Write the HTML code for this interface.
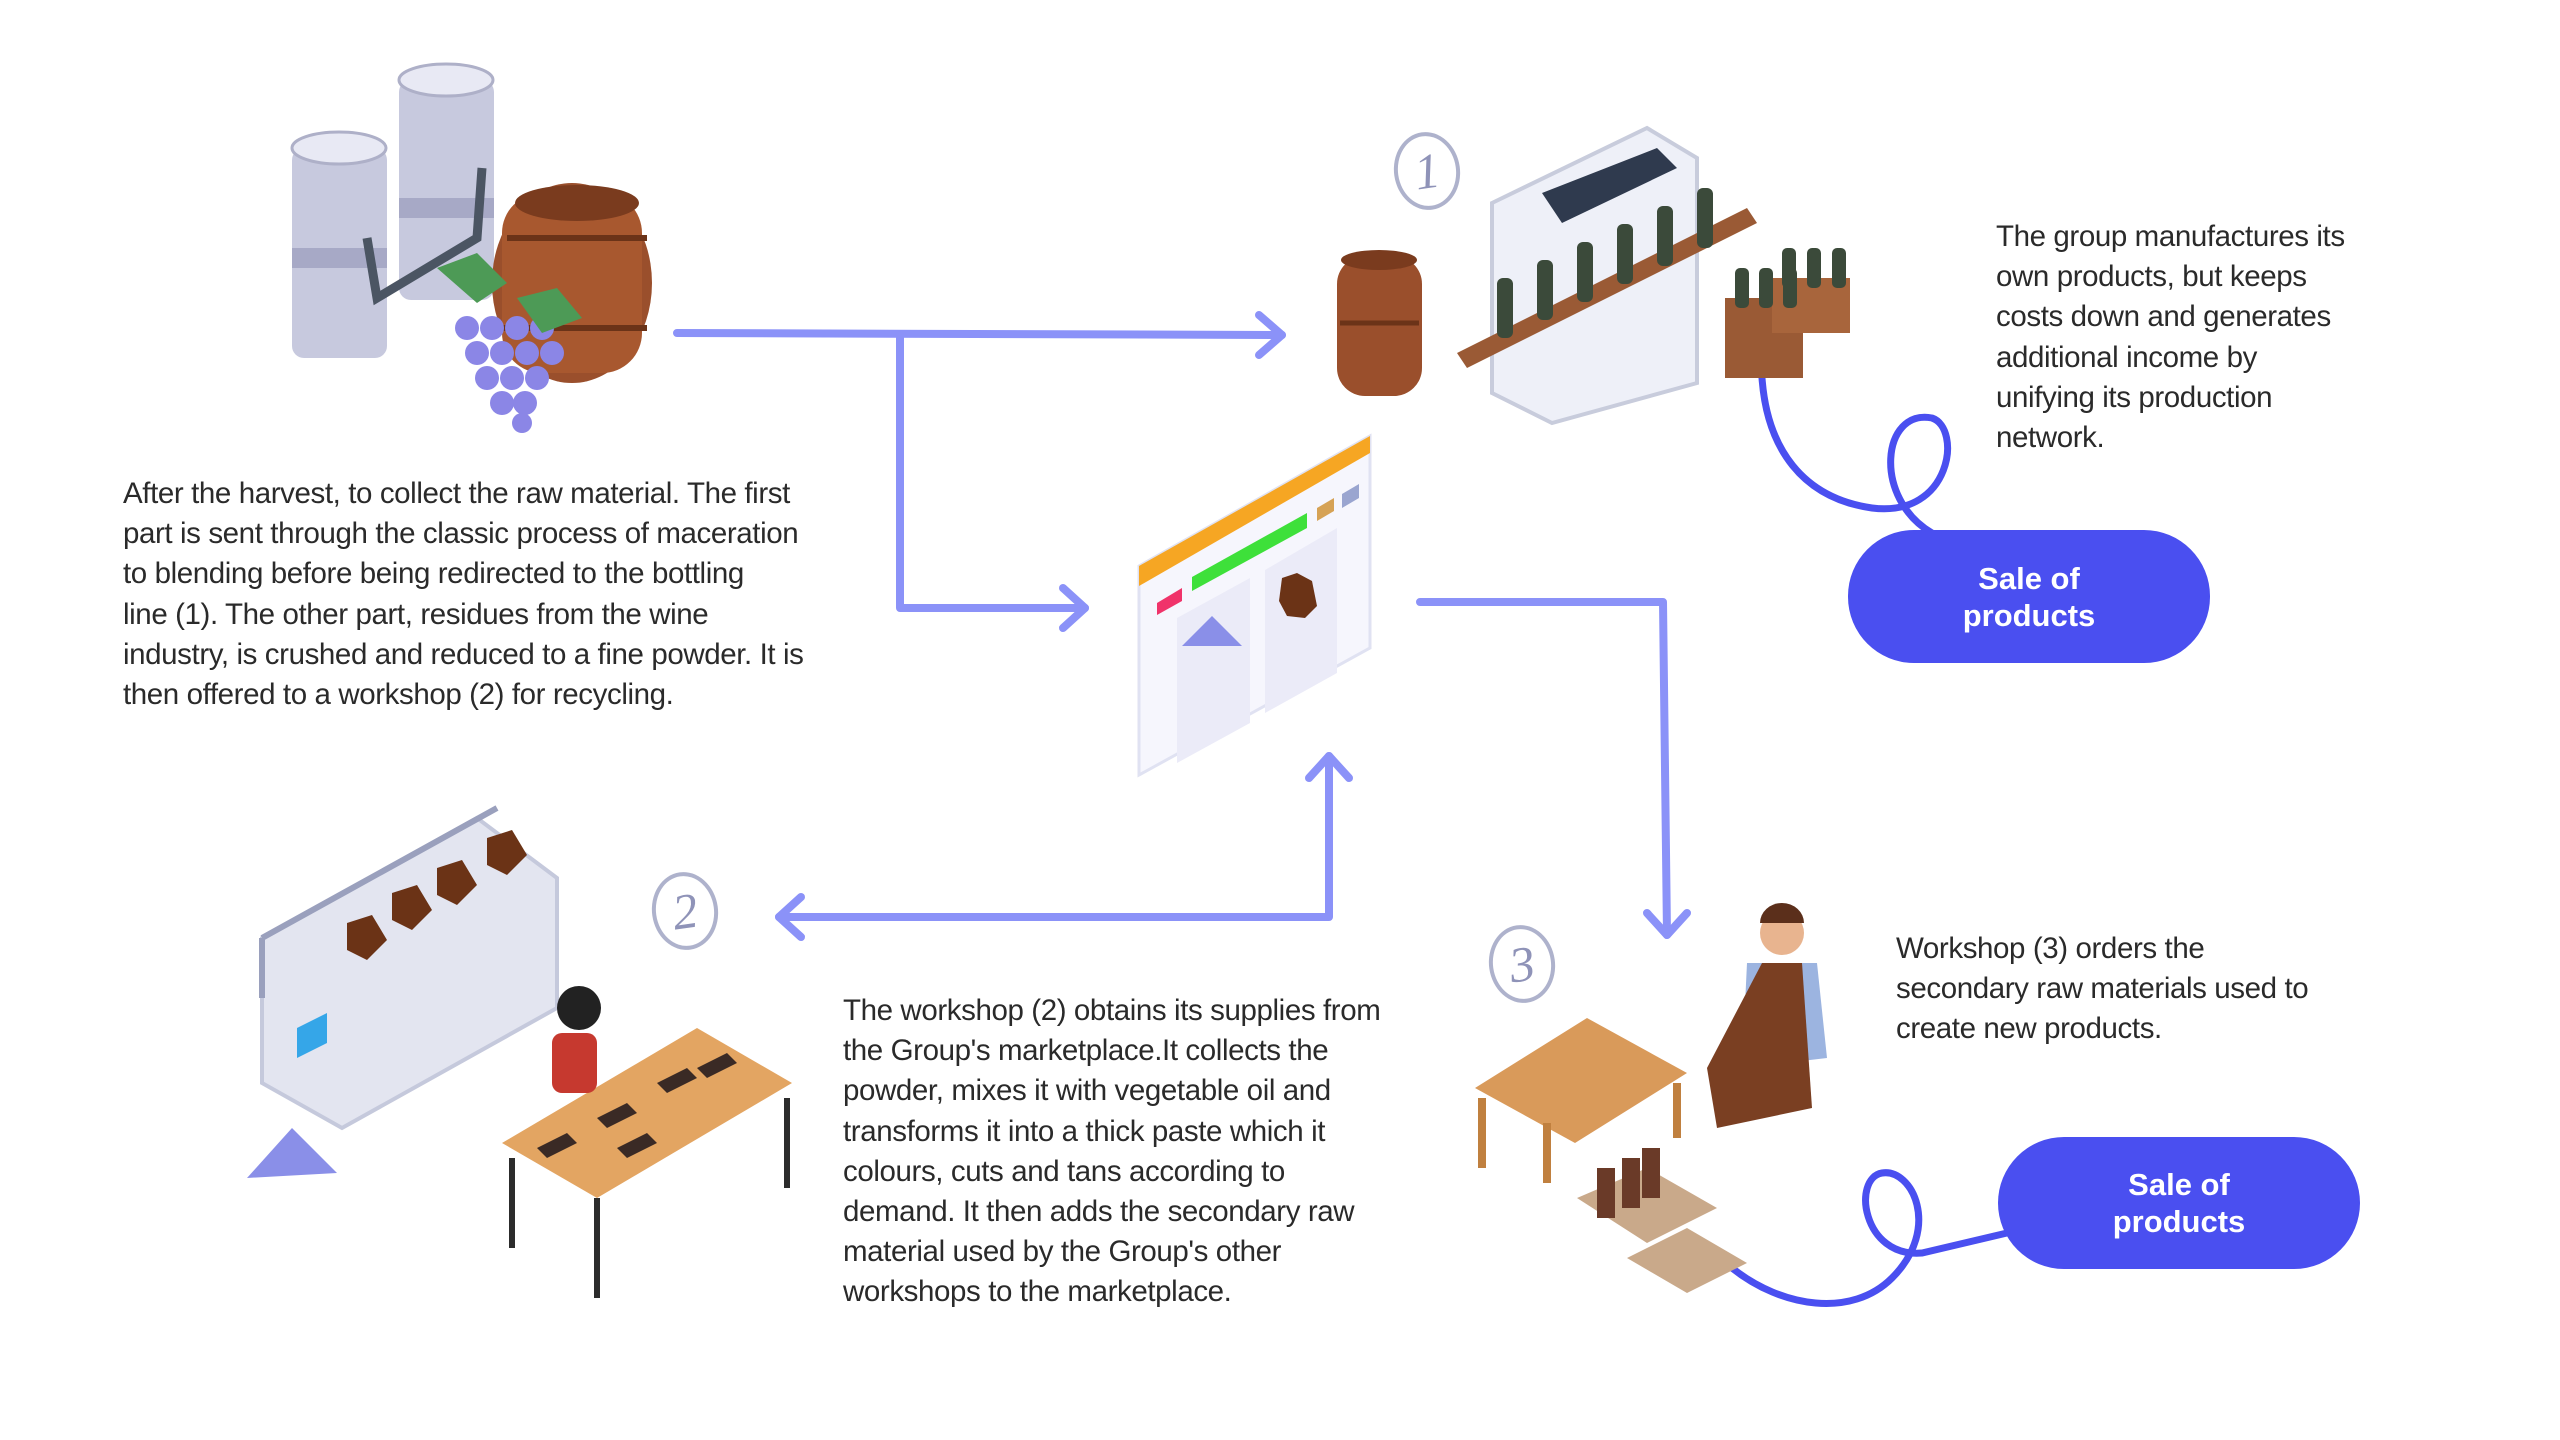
<!DOCTYPE html>
<html><head><meta charset="utf-8"><style>
html,body{margin:0;padding:0;background:#fff}
#c{position:relative;width:2560px;height:1440px;overflow:hidden;font-family:"Liberation Sans",sans-serif;color:#2a2a2a}
#w{position:absolute;left:0;top:0;width:2560px;height:1440px;transform:translate(-3px,-2px)}
.t{position:absolute;font-size:29.5px;line-height:40.2px;white-space:nowrap;letter-spacing:-0.4px}
.btn{position:absolute;background:#4a4ff0;color:#fff;border-radius:66px;font-weight:bold;font-size:31px;line-height:37px;text-align:center;display:flex;align-items:center;justify-content:center}
svg{position:absolute;left:0;top:0}
.num{position:absolute;font-family:"Liberation Serif",serif;font-style:italic;color:#8f93b8;font-size:50px;width:58px;height:70px;border:4px solid #aeb2cc;border-radius:50%;text-align:center;line-height:70px;transform:rotate(-8deg)}
</style></head><body><div id="c"><div id="w">
<svg width="2560" height="1440" viewBox="0 0 2560 1440">
<g fill="none" stroke="#8b92f8" stroke-width="8" stroke-linecap="round" stroke-linejoin="round">
<path d="M680 335 L1285 337"/><path d="M1262 317 L1285 337 L1262 357"/>
<path d="M903 337 L903 610 L1088 610"/><path d="M1066 590 L1088 610 L1066 630"/>
<path d="M1423 604 L1666 604 L1670 937"/><path d="M1650 915 L1670 937 L1690 915"/>
<path d="M1332 758 L1332 919 L782 919"/><path d="M1312 780 L1332 758 L1352 780"/><path d="M804 899 L782 919 L804 939"/>
</g>
<g fill="none" stroke="#4a4ff0" stroke-width="7" stroke-linecap="round">
<path d="M1765 380 C1770 450 1805 500 1875 510 C1955 520 1965 430 1935 420 C1885 410 1875 500 1935 535"/>
<path d="M1735 1270 C1785 1310 1855 1320 1895 1280 C1945 1230 1915 1170 1885 1175 C1855 1180 1865 1260 1925 1255 L2010 1235"/>
</g>
<g>
<rect x="295" y="150" width="95" height="210" rx="12" fill="#c7c9de"/><ellipse cx="342" cy="150" rx="47" ry="16" fill="#e8e9f4" stroke="#aeb0c8" stroke-width="3"/>
<rect x="402" y="82" width="95" height="220" rx="12" fill="#c7c9de"/><ellipse cx="449" cy="82" rx="47" ry="16" fill="#e8e9f4" stroke="#aeb0c8" stroke-width="3"/>
<rect x="295" y="250" width="95" height="20" fill="#a7a9c6"/><rect x="402" y="200" width="95" height="20" fill="#a7a9c6"/>
<path d="M370 240 L380 300 L480 240 L485 170" stroke="#4b5563" stroke-width="9" fill="none"/>
<ellipse cx="575" cy="285" rx="80" ry="100" fill="#9a4f2c"/><rect x="505" y="195" width="140" height="180" rx="40" fill="#a8582f"/>
<ellipse cx="580" cy="205" rx="62" ry="18" fill="#7a3b1e"/>
<path d="M510 240 L650 240 M505 330 L650 330" stroke="#6b3318" stroke-width="6"/>
<g fill="#8b86e6"><circle cx="470" cy="330" r="12"/><circle cx="495" cy="330" r="12"/><circle cx="520" cy="330" r="12"/><circle cx="545" cy="330" r="12"/><circle cx="480" cy="355" r="12"/><circle cx="505" cy="355" r="12"/><circle cx="530" cy="355" r="12"/><circle cx="555" cy="355" r="12"/><circle cx="490" cy="380" r="12"/><circle cx="515" cy="380" r="12"/><circle cx="540" cy="380" r="12"/><circle cx="505" cy="405" r="12"/><circle cx="528" cy="405" r="12"/><circle cx="525" cy="425" r="10"/></g>
<g fill="#4d9a56"><path d="M440 270 l40 -15 l30 30 l-30 20z"/><path d="M520 300 l40 -10 l25 30 l-40 15z"/></g>
</g>
<rect x="1340" y="258" width="85" height="140" rx="28" fill="#9a4f2c"/><ellipse cx="1382" cy="262" rx="38" ry="10" fill="#7a3b1e"/><path d="M1343 325 L1422 325" stroke="#6b3318" stroke-width="5"/>
<path d="M1495 205 L1650 130 L1700 160 L1700 385 L1555 425 L1495 395Z" fill="#eef0f8" stroke="#c8ccdc" stroke-width="4"/>
<path d="M1545 195 L1660 150 L1680 170 L1565 225Z" fill="#2f3a4e"/>
<path d="M1460 355 L1750 210 L1760 225 L1470 370Z" fill="#9a5a35"/>
<g fill="#3b4a3a"><rect x="1500" y="280" width="16" height="60" rx="6"/><rect x="1540" y="262" width="16" height="60" rx="6"/><rect x="1580" y="244" width="16" height="60" rx="6"/><rect x="1620" y="226" width="16" height="60" rx="6"/><rect x="1660" y="208" width="16" height="60" rx="6"/><rect x="1700" y="190" width="16" height="60" rx="6"/></g>
<rect x="1728" y="300" width="78" height="80" fill="#9a5a35"/><rect x="1775" y="280" width="78" height="55" fill="#a8653c"/>
<g fill="#3b4a3a"><rect x="1738" y="270" width="14" height="40" rx="5"/><rect x="1762" y="270" width="14" height="40" rx="5"/><rect x="1786" y="270" width="14" height="40" rx="5"/><rect x="1785" y="250" width="14" height="40" rx="5"/><rect x="1810" y="250" width="14" height="40" rx="5"/><rect x="1835" y="250" width="14" height="40" rx="5"/></g>
<path d="M1142 568 L1373 438 L1373 650 L1142 777Z" fill="#f6f6fd" stroke="#e0e2f2" stroke-width="3"/>
<path d="M1142 568 L1373 438 L1373 455 L1142 588Z" fill="#f6a623"/>
<path d="M1195 579 L1310 515 L1310 530 L1195 593Z" fill="#3ee03a"/>
<path d="M1160 605 L1185 590 L1185 603 L1160 617Z" fill="#f0336a"/>
<path d="M1320 510 L1337 500 L1337 513 L1320 523Z" fill="#d6a255"/><path d="M1345 496 L1362 486 L1362 500 L1345 510Z" fill="#9aa5d0"/>
<path d="M1180 620 L1253 580 L1253 725 L1180 765Z" fill="#ebebf8"/><path d="M1268 572 L1340 530 L1340 675 L1268 715Z" fill="#ebebf8"/>
<path d="M1185 648 L1215 618 L1245 648Z" fill="#8a8fe8"/><path d="M1285 580 l15 -5 l15 8 l5 25 l-12 12 l-18 -2 l-8 -15z" fill="#6b3316"/>
<path d="M265 940 L480 820 L560 880 L560 1010 L345 1130 L265 1085Z" fill="#e3e5f0" stroke="#c5c9dc" stroke-width="4"/>
<path d="M265 940 L265 1000 M500 810 L265 940" stroke="#9aa0bd" stroke-width="6"/>
<g fill="#6b3316"><path d="M350 925 l25 -8 l15 25 l-20 20 l-20 -10z"/><path d="M395 895 l25 -8 l15 25 l-20 20 l-20 -10z"/><path d="M440 870 l25 -8 l15 25 l-20 20 l-20 -10z"/><path d="M490 840 l25 -8 l15 25 l-20 20 l-20 -10z"/></g>
<path d="M300 1030 L330 1015 L330 1045 L300 1060Z" fill="#35a6e8"/>
<path d="M250 1180 L295 1130 L340 1175Z" fill="#8a8fe8"/>
<path d="M505 1145 L700 1030 L795 1085 L600 1200Z" fill="#e3a562"/>
<path d="M515 1160 L515 1250 M600 1200 L600 1300 M790 1100 L790 1190" stroke="#2c2c2c" stroke-width="6"/>
<circle cx="582" cy="1010" r="22" fill="#222"/><rect x="555" y="1035" width="45" height="60" rx="10" fill="#c6392f"/>
<g fill="#3a2a25"><path d="M540 1150 l30 -15 l10 10 l-30 15z"/><path d="M600 1120 l30 -15 l10 10 l-30 15z"/><path d="M660 1085 l30 -15 l10 10 l-30 15z"/><path d="M620 1150 l30 -15 l10 10 l-30 15z"/><path d="M700 1070 l30 -15 l10 10 l-30 15z"/></g>
<path d="M1478 1090 L1590 1020 L1690 1075 L1578 1145Z" fill="#d99a5a"/>
<path d="M1485 1100 L1485 1170 M1550 1125 L1550 1185 M1680 1085 L1680 1140" stroke="#c0803f" stroke-width="8"/>
<circle cx="1785" cy="935" r="22" fill="#e8b48f"/><path d="M1763 925 a22 20 0 0 1 44 0z" fill="#5b2f1b"/>
<path d="M1750 965 L1820 965 L1830 1060 L1745 1070Z" fill="#9cb4e0"/><path d="M1765 965 L1805 965 L1815 1110 L1720 1130 L1710 1070Z" fill="#7a3f22"/>
<path d="M1580 1200 L1650 1170 L1720 1210 L1650 1245Z" fill="#c9a98a"/><path d="M1630 1260 L1690 1230 L1750 1265 L1690 1295Z" fill="#c9a98a"/>
<g fill="#6a3a28"><rect x="1600" y="1170" width="18" height="50"/><rect x="1625" y="1160" width="18" height="50"/><rect x="1645" y="1150" width="18" height="50"/></g>
</svg>
<div class="num" style="left:1397px;top:134px">1</div>
<div class="num" style="left:655px;top:874px">2</div>
<div class="num" style="left:1492px;top:927px">3</div>
</div>
<div class="t" style="left:123px;top:474px">After the harvest, to collect the raw material. The first<br>part is sent through the classic process of maceration<br>to blending before being redirected to the bottling<br>line (1). The other part, residues from the wine<br>industry, is crushed and reduced to a fine powder. It is<br>then offered to a workshop (2) for recycling.</div>
<div class="t" style="left:1996px;top:217px">The group manufactures its<br>own products, but keeps<br>costs down and generates<br>additional income by<br>unifying its production<br>network.</div>
<div class="t" style="left:843px;top:991px">The workshop (2) obtains its supplies from<br>the Group's marketplace.It collects the<br>powder, mixes it with vegetable oil and<br>transforms it into a thick paste which it<br>colours, cuts and tans according to<br>demand. It then adds the secondary raw<br>material used by the Group's other<br>workshops to the marketplace.</div>
<div class="t" style="left:1896px;top:929px">Workshop (3) orders the<br>secondary raw materials used to<br>create new products.</div>
<div class="btn" style="left:1848px;top:530px;width:362px;height:133px">Sale of<br>products</div>
<div class="btn" style="left:1998px;top:1137px;width:362px;height:132px">Sale of<br>products</div>
</div></body></html>
